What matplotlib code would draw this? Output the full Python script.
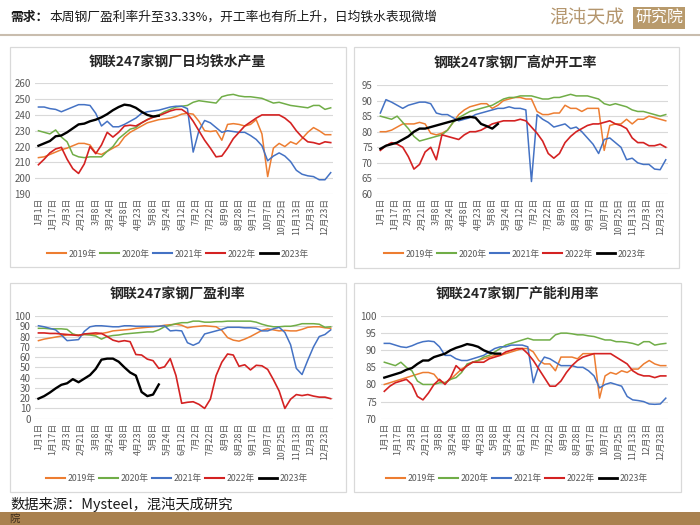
import matplotlib
matplotlib.use('Agg')
import matplotlib.pyplot as plt
import numpy as np
from matplotlib.patches import Rectangle
from matplotlib.lines import Line2D

plt.rcParams['font.family'] = ['Noto Sans CJK SC', 'DejaVu Sans']

# ---------------- data ----------------
years = ['2019年', '2020年', '2021年', '2022年', '2023年']
date_labels = ['1月1日', '1月17日', '2月3日', '2月21日', '3月8日', '3月24日', '4月8日',
               '4月23日', '5月8日', '5月24日', '6月12日', '7月2日', '7月22日', '8月9日',
               '8月28日', '9月17日', '10月7日', '10月25日', '11月13日', '12月3日', '12月23日']

# 日均铁水产量
hm_2019 = [213, 213.5, 215, 216.5, 218, 219, 220.5, 222, 222, 221, 216, 215, 217, 219, 221, 226, 229, 231,
           233, 235, 236, 237, 237.5, 238, 239, 240.5, 241, 240.5, 236, 230, 229.5, 230, 224, 234, 234.5,
           234, 233, 234, 237, 228, 201, 219, 222, 220, 223, 221.5, 225, 229, 232, 230, 227.5, 227.5]
hm_2020 = [230, 229, 228, 230.5, 226, 223, 215, 213.5, 213, 213.5, 213.5, 213.5, 217, 220, 225, 228, 231,
           232, 235, 237, 239, 240, 242, 243.5, 245, 245.5, 246, 248, 249, 248.5, 248, 247.5, 251.5, 252.5,
           253, 252, 251.5, 251.5, 251, 250.5, 249, 247.5, 248, 247, 246, 245.5, 245, 244.5, 246, 246,
           243.5, 244.5]
hm_2021 = [245, 245, 244, 243.5, 242, 243.5, 245, 246.5, 246.5, 246, 241, 233, 236, 232.5, 232.5, 234, 236,
           238, 241, 242, 242.5, 243, 244, 245, 245.5, 245.5, 244, 216.5, 230, 236.5, 235, 232, 229, 230,
           229.5, 229, 229, 227, 224.5, 220.5, 211, 214, 216, 214, 210.5, 205, 202.5, 201.5, 201, 199,
           199, 203.5]
hm_2022 = [208.5, 212, 216, 218.5, 219.5, 212, 206, 203, 209, 220, 215.5, 221, 229, 226, 229, 233, 233.5,
           233, 235, 237, 238.5, 239.5, 241, 242.5, 243.5, 243.5, 241, 236, 230, 224, 219, 213.5, 214, 219,
           225, 229, 233, 235.5, 238, 240, 240, 240, 240, 238, 235, 230, 226, 223, 222.5, 221.5, 223, 222.5]
hm_2023 = [220.5, 222, 223.5, 226.5, 227, 229, 231.5, 234, 234.5, 236, 237, 238.5, 240.5, 243, 245, 246.5,
           246, 244.5, 242, 240, 239, 239.5]

# 高炉开工率
bf_2019 = [80, 80, 80.5, 81.5, 82.5, 82.5, 82.5, 83, 82.5, 79.5, 79, 79.5, 80.5, 83, 85.5, 87, 88, 88.5, 89,
           89, 87.5, 88.5, 90, 90.5, 91, 91, 90.5, 90.5, 86.5, 85.5, 85.5, 86, 86, 88.5, 87.5, 87.5, 86.5,
           87.5, 87.5, 87.5, 74, 82, 82.5, 82.5, 84, 82.5, 84, 84, 85, 84.5, 84, 83.5]
bf_2020 = [85, 84.5, 84, 85, 83, 81, 78.5, 77, 77.5, 78, 78.5, 79, 80.5, 83, 84.5, 85.5, 86.5, 87, 87.5, 88,
           88.5, 89.5, 90.5, 91, 91, 91.5, 91.5, 91.5, 91, 90.5, 90.5, 91, 91, 91.5, 92, 91.5, 91.5, 91.5,
           91, 90.5, 89, 88.5, 89, 88.5, 88, 87, 86.5, 86.5, 86, 85.5, 85, 85.5]
bf_2021 = [86, 90.3, 89.5, 88.5, 87.5, 88.5, 89, 89.5, 89.5, 89, 86, 85.5, 85.5, 84.5, 83.5, 84, 84.5, 85.5,
           86, 86.5, 87, 87.5, 87.5, 88, 87.5, 87.5, 87, 64, 85.5, 84, 83, 81.5, 82, 82.5, 81, 81.5, 80, 78,
           76, 73, 77.5, 78, 76.5, 75, 71, 71.5, 70, 69.5, 69.5, 68, 67.8, 71]
bf_2022 = [74, 75.5, 76.5, 76, 75, 72, 68, 69.5, 73.5, 75, 71, 79, 78.5, 78, 77.5, 79, 80, 80, 80.5, 81.5,
           82.5, 83, 83.5, 83.5, 83.5, 84, 83.5, 81.5, 79.5, 77, 73, 71.5, 73, 76.5, 78.5, 80, 81, 82, 82.5,
           82.5, 83, 83.5, 82.5, 82, 81, 78, 76.5, 76.5, 75.5, 75.5, 76, 75]
bf_2023 = [74.5, 75.5, 76, 76.5, 77.5, 78.5, 80, 81, 81, 81.5, 82, 82.5, 83, 83.5, 84, 84.5, 84.8, 84.5,
           82.5, 81.8, 81, 82.5]

# 盈利率
pr_2019 = [76, 77.5, 78.5, 79.5, 80.5, 81.5, 82, 81.5, 82, 82, 82, 83, 84, 85.5, 86, 86.5, 87, 88, 88.5, 89,
           89.5, 90, 91, 91.5, 92, 91, 88.5, 89.5, 90, 90.5, 90, 89.5, 86, 79, 76.5, 75.5, 77.5, 80, 83, 86,
           87.5, 86.5, 85.5, 86, 85.5, 85.5, 87, 89, 89.5, 89.5, 88.5, 88]
pr_2020 = [88, 88, 87.5, 87.5, 87.5, 87, 82.5, 81, 82, 81.5, 80.5, 77.5, 80, 81, 81.5, 82.5, 83, 83.5, 84,
           84.5, 84.5, 86.5, 89.5, 91, 92.5, 93.5, 93.5, 95, 95, 94, 94, 94.5, 94.5, 95, 95, 95, 95, 95, 94,
           92, 90.5, 89.5, 89.5, 90, 90, 91, 92.5, 92.5, 92.5, 92, 89, 89.5]
pr_2021 = [90.5, 89.5, 88, 86.5, 81.5, 76, 76.5, 77, 85, 89.5, 90.5, 90.5, 90, 89.5, 89.5, 90.5, 90.5, 90,
           90, 90, 90, 90, 90.5, 85.5, 86, 85.5, 74, 71.5, 74, 82.5, 84, 85.5, 87, 89, 89, 89, 88.5, 88.5,
           88, 85.5, 85.5, 87.5, 89, 84, 72, 49, 43, 57, 70, 80, 82, 86.5]
pr_2022 = [83.5, 83.5, 83, 83, 82.5, 82, 81.5, 81, 82.5, 83, 83.5, 83, 80, 76.5, 75, 76, 75, 62.5, 62, 58,
           56.5, 49, 50.5, 58.5, 42, 15, 16, 16.5, 14, 10, 19, 42, 55, 63, 62, 51, 52.5, 47.5, 52, 51.5, 48,
           38, 27, 10, 19, 23.5, 22.5, 23.5, 22, 21, 21, 19.5]
pr_2023 = [19.5, 22, 25.5, 29.5, 33, 34.5, 38.5, 35.5, 39, 42.5, 48.5, 57.5, 58.5, 58.5, 55.5, 50, 45, 42,
           26, 22, 23.5, 33.33]

# 产能利用率
cu_2019 = [80, 80.5, 81, 81.5, 82, 82.5, 83, 83.5, 83.5, 83, 81, 80.5, 81.5, 83, 84.5, 85.5, 86.5, 87, 87.5,
           88, 88.5, 88.5, 89, 89.5, 90, 90.5, 90.5, 89.5, 87, 86, 86, 84, 88, 88, 88, 87.5, 89, 89, 89, 76,
           82.5, 83.5, 83, 84, 83.5, 84.5, 84.5, 86, 87, 86, 85.5, 85.5]
cu_2020 = [86.5, 86, 85.5, 86.5, 85, 84, 81, 80, 80, 80, 80.5, 80.5, 81.5, 82, 83.5, 86, 86.5, 87, 88, 88.5,
           89.5, 90.5, 91.5, 92, 92.5, 93, 93.5, 93, 93, 93, 93, 94.5, 95, 95, 94.8, 94.5, 94.5, 94.2, 94,
           93.5, 93, 93, 92.5, 92.5, 92.3, 92, 91.5, 92.5, 92.5, 91.5, 91.8, 92]
cu_2021 = [92, 92, 91.5, 91, 90.8, 91.3, 92, 92.5, 92.7, 92.5, 91, 88.5, 88.5, 87.5, 87, 87, 87.5, 88, 88.5,
           89.5, 90.5, 91, 91, 91.5, 91.5, 91.5, 91, 80.5, 85.5, 88, 87.5, 86.5, 85.5, 85.5, 85.5, 85, 85,
           84, 82.5, 79, 80, 80.5, 80, 79.5, 76.5, 75.5, 75.3, 75, 74.3, 74.2, 74.3, 76]
cu_2022 = [78, 79.5, 80.5, 81, 81.5, 80, 76.5, 75.5, 77.5, 80, 81.5, 80, 82, 85.5, 84, 85.5, 86.5, 86.5,
           86.5, 87.5, 88, 88.5, 89.5, 90, 90.5, 90.5, 89, 87, 84.5, 82, 79.5, 79.5, 81, 83.5, 85.5, 87, 88,
           88.5, 89, 89, 89, 89, 88, 87, 86, 84, 83, 82.5, 82.5, 82, 82.5, 82.5]
cu_2023 = [82, 82.5, 83, 83.5, 84.3, 84.8, 86, 87, 87, 88, 88.5, 89, 90, 90.7, 91.2, 91.8, 91.5, 91, 90,
           89.3, 89, 89]

# ---------------- styling ----------------
colors = ['#ED7D31', '#70AD47', '#4472C4', '#D42222', '#000000']
lws = [1.1, 1.1, 1.1, 1.2, 1.7]
TXT = '#595959'

W, H = 700, 525
fig = plt.figure(figsize=(7, 5.25), dpi=100)
fig.patch.set_facecolor('white')


def frac(x0, y0, x1, y1):
    return [x0 / W, 1 - y1 / H, (x1 - x0) / W, (y1 - y0) / H]


def fx(x):
    return x / W


def fy(y):
    return 1 - y / H


panels = [
    dict(title='钢联247家钢厂日均铁水产量', data=[hm_2019, hm_2020, hm_2021, hm_2022, hm_2023],
         yticks=np.arange(190, 261, 10), box=(10, 47, 346, 267), ax=(35, 83.3, 333, 194),
         title_xy=(177, 62), legend_xy=(178, 254)),
    dict(title='钢联247家钢厂高炉开工率', data=[bf_2019, bf_2020, bf_2021, bf_2022, bf_2023],
         yticks=np.arange(60, 96, 5), box=(354, 47, 679, 268), ax=(377, 85, 668, 194),
         title_xy=(515, 63), legend_xy=(515, 254)),
    dict(title='钢联247家钢厂盈利率', data=[pr_2019, pr_2020, pr_2021, pr_2022, pr_2023],
         yticks=np.arange(0, 101, 10), box=(10, 283, 346, 492), ax=(35, 316, 333, 418.7),
         title_xy=(177, 295), legend_xy=(177, 479)),
    dict(title='钢联247家钢厂产能利用率', data=[cu_2019, cu_2020, cu_2021, cu_2022, cu_2023],
         yticks=np.arange(70, 101, 5), box=(354, 283, 681, 492), ax=(381, 316, 668, 418.7),
         title_xy=(517, 294), legend_xy=(517, 479)),
]

for p in panels:
    x0, y0, x1, y1 = p['box']
    fig.add_artist(Rectangle((fx(x0), fy(y1)), (x1 - x0) / W, (y1 - y0) / H,
                             transform=fig.transFigure, facecolor='white',
                             edgecolor='#d9d9d9', lw=0.9, zorder=0))
    ax = fig.add_axes(frac(*p['ax']))
    ax.set_facecolor('none')
    for series, c, lw in zip(p['data'], colors, lws):
        ax.plot(np.arange(len(series)), series, color=c, lw=lw, solid_joinstyle='round')
    ax.set_xlim(-0.6, 51.4)
    ax.set_ylim(p['yticks'][0], p['yticks'][-1])
    ax.set_yticks(p['yticks'])
    ax.set_yticklabels([str(v) for v in p['yticks']])
    ax.set_xticks(np.arange(len(date_labels)) * 2.5)
    ax.set_xticklabels(date_labels, rotation=90, va='top', ha='center')
    ax.yaxis.grid(True, color='#d9d9d9', lw=0.8)
    ax.set_axisbelow(True)
    for s in ax.spines.values():
        s.set_visible(False)
    ax.tick_params(axis='both', length=0, colors=TXT)
    ax.tick_params(axis='y', labelsize=7, pad=3)
    ax.tick_params(axis='x', labelsize=6.3, pad=3)
    tx, ty = p['title_xy']
    fig.text(fx(tx), fy(ty), p['title'], ha='center', va='center', fontsize=10,
             fontweight='bold', color='#262626')
    handles = [Line2D([], [], color=c, lw=1.5 if i < 4 else 2.0) for i, c in enumerate(colors)]
    lx, ly = p['legend_xy']
    fig.legend(handles, years, loc='center', bbox_to_anchor=(fx(lx), fy(ly)), ncol=5,
               frameon=False, fontsize=6.3, handlelength=2.1, handletextpad=0.3,
               columnspacing=0.45, labelcolor=TXT, borderpad=0, borderaxespad=0)

# ---------------- header / footer ----------------
fig.text(fx(10), fy(17), '需求：', ha='left', va='center', fontsize=9.2, fontweight='bold',
         color='#1a1a1a')
fig.text(fx(49), fy(17), '本周钢厂盈利率升至33.33%，开工率也有所上升，日均铁水表现微增',
         ha='left', va='center', fontsize=9.2, color='#1a1a1a')
fig.add_artist(Line2D([0, 1], [fy(34.5), fy(34.5)], transform=fig.transFigure,
                      color='#c9bdae', lw=1.5))
fig.text(fx(587), fy(18), '混沌天成', ha='center', va='center', fontsize=13.5,
         fontweight='light', color='#b4966e')
fig.text(fx(659), fy(18), '研究院', ha='center', va='center', fontsize=11.5, color='white',
         bbox=dict(boxstyle='square,pad=0.15', facecolor='#b89a6c', edgecolor='none'))

fig.text(fx(10), fy(504), '数据来源：Mysteel，混沌天成研究', ha='left', va='center',
         fontsize=10.3, color='#1a1a1a')
fig.add_artist(Rectangle((0, 0), 1, 13 / H, transform=fig.transFigure,
                         facecolor='#a9814f', edgecolor='none'))
fig.text(fx(9), fy(518.5), '院', ha='left', va='center', fontsize=7.5, color='#3a2a1a')

fig.savefig('out.png', dpi=100)
